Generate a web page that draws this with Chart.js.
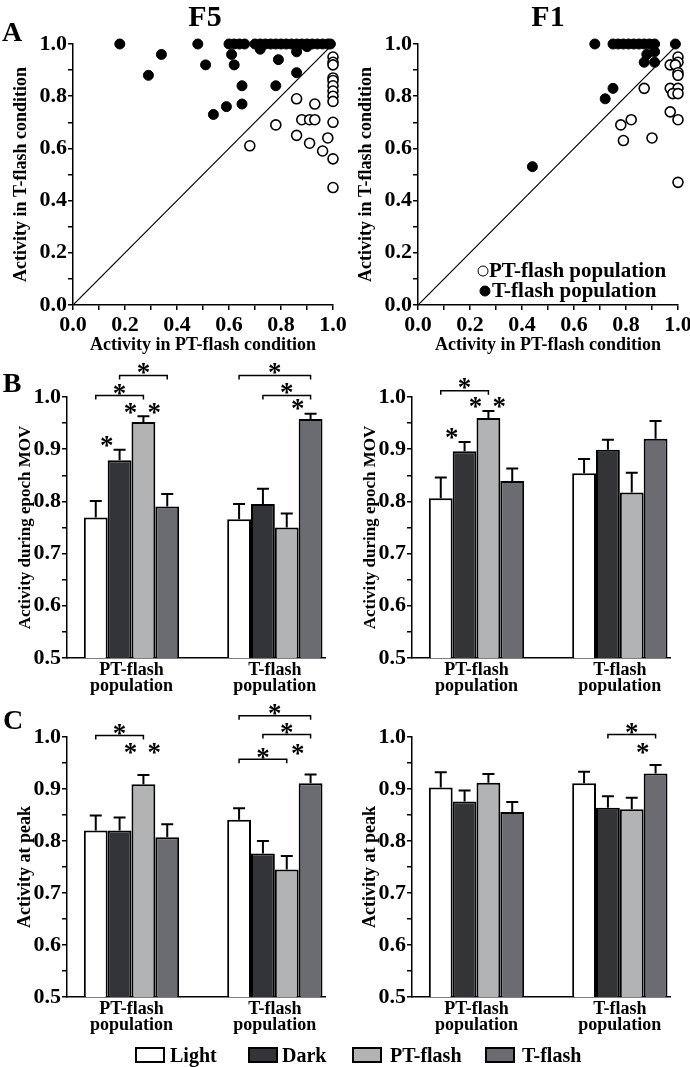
<!DOCTYPE html>
<html>
<head>
<meta charset="utf-8">
<script src="https://cdn.jsdelivr.net/npm/chart.js@4.4.1/dist/chart.umd.min.js"></script>
<style>
body { margin: 0; overflow: hidden; background: #fff; font-family: "Liberation Serif", "Times New Roman", serif; font-weight: bold; color: #000; }
#wrap { position: relative; width: 690px; height: 1067px; }
canvas { position: absolute; }
.t { position: absolute; white-space: nowrap; line-height: 1; transform: translate(-50%, -50%); }
.l { position: absolute; white-space: nowrap; line-height: 1; transform: translateY(-50%); }
.box { position: absolute; width: 26px; height: 12px; border: 2px solid #000; }
.dot { position: absolute; width: 9px; height: 9px; border-radius: 50%; border: 1.6px solid #000; transform: translate(-50%, -50%); }
</style>
</head>
<body>
<div id="wrap">
  <canvas id="scF5" width="360" height="340" style="left:0;top:20px"></canvas>
  <canvas id="scF1" width="360" height="340" style="left:345px;top:20px"></canvas>
  <canvas id="movF5" width="360" height="370" style="left:0;top:350px"></canvas>
  <canvas id="movF1" width="360" height="370" style="left:345px;top:350px"></canvas>
  <canvas id="peakF5" width="360" height="350" style="left:0;top:690px"></canvas>
  <canvas id="peakF1" width="360" height="350" style="left:345px;top:690px"></canvas>

  <div class="t" style="left:205px;top:16px;font-size:30px">F5</div>
  <div class="t" style="left:548px;top:16px;font-size:30px">F1</div>
  <div class="t" style="left:12px;top:32px;font-size:28px">A</div>
  <div class="t" style="left:12px;top:383px;font-size:28px">B</div>
  <div class="t" style="left:13px;top:720px;font-size:28px">C</div>

  <div class="dot" style="left:483px;top:271px;background:#fff"></div>
  <div class="l" style="left:489px;top:270px;font-size:21px">PT-flash population</div>
  <div class="dot" style="left:485px;top:291px;background:#000"></div>
  <div class="l" style="left:492px;top:290px;font-size:21px">T-flash population</div>

  <div class="box" style="left:135px;top:1047px;background:#fff"></div>
  <div class="l" style="left:170px;top:1055px;font-size:20px">Light</div>
  <div class="box" style="left:248px;top:1047px;background:#333437"></div>
  <div class="l" style="left:282px;top:1055px;font-size:20px">Dark</div>
  <div class="box" style="left:352px;top:1047px;background:#b2b3b5"></div>
  <div class="l" style="left:390px;top:1055px;font-size:20px">PT-flash</div>
  <div class="box" style="left:485px;top:1047px;background:#6b6c71"></div>
  <div class="l" style="left:522px;top:1055px;font-size:20px">T-flash</div>
</div>

<script>
// ---- data ----
// scatter: [activity in PT-flash condition, activity in T-flash condition]
const f5PT = [[0.68,0.61],[0.78,0.69],[0.86,0.79],[0.86,0.65],[0.88,0.71],[0.91,0.71],[0.93,0.71],
  [0.93,0.77],[0.91,0.62],[0.96,0.59],[0.98,0.64],[1.0,0.95],[1.0,0.93],[1.0,0.92],[1.0,0.87],
  [1.0,0.86],[1.0,0.84],[1.0,0.82],[1.0,0.80],[1.0,0.78],[1.0,0.70],[1.0,0.56],[1.0,0.45]];
const f5T = [[0.18,1.0],[0.29,0.88],[0.34,0.96],[0.48,1.0],[0.51,0.92],[0.54,0.73],[0.59,0.76],
  [0.60,1.0],[0.62,1.0],[0.64,1.0],[0.66,1.0],[0.61,0.96],[0.62,0.92],[0.65,0.84],[0.65,0.77],
  [0.70,1.0],[0.72,1.0],[0.74,1.0],[0.76,1.0],[0.78,1.0],[0.80,1.0],[0.82,1.0],[0.84,1.0],
  [0.86,1.0],[0.88,1.0],[0.90,1.0],[0.92,1.0],[0.94,1.0],[0.96,1.0],[0.98,1.0],[0.99,1.0],
  [0.72,0.98],[0.79,0.94],[0.78,0.84],[0.86,0.97],[0.86,0.89],[0.90,0.99]];
const f1PT = [[0.78,0.69],[0.82,0.71],[0.79,0.63],[0.90,0.64],[0.87,0.83],[0.97,0.92],[1.0,0.95],
  [1.0,0.93],[0.99,0.92],[1.0,0.89],[1.0,0.88],[0.97,0.83],[1.0,0.83],[0.98,0.81],[1.0,0.81],
  [0.97,0.74],[1.0,0.71],[1.0,0.47]];
const f1T = [[0.44,0.53],[0.68,1.0],[0.75,1.0],[0.77,1.0],[0.79,1.0],[0.81,1.0],[0.83,1.0],
  [0.85,1.0],[0.87,1.0],[0.89,1.0],[0.91,1.0],[0.99,1.0],[0.88,0.96],[0.91,0.97],[0.87,0.93],
  [0.91,0.93],[0.75,0.83],[0.72,0.79]];
const diagonal = [{x: 0, y: 0}, {x: 1, y: 1}];

// bars: one row per condition, one value per population
const groupLabels = [['PT-flash', 'population'], ['T-flash', 'population']];
const conditions = ['Light', 'Dark', 'PT-flash', 'T-flash'];
const movF5Mean = [[0.769,0.766],[0.879,0.795],[0.952,0.750],[0.790,0.958]];
const movF5Err  = [[0.032,0.029],[0.020,0.029],[0.011,0.027],[0.024,0.010]];
const movF1Mean = [[0.806,0.854],[0.896,0.899],[0.960,0.817],[0.839,0.920]];
const movF1Err  = [[0.040,0.027],[0.018,0.019],[0.013,0.038],[0.024,0.034]];
const peakF5Mean = [[0.820,0.841],[0.820,0.776],[0.909,0.745],[0.807,0.911]];
const peakF5Err  = [[0.029,0.022],[0.025,0.024],[0.018,0.026],[0.025,0.017]];
const peakF1Mean = [[0.903,0.911],[0.876,0.864],[0.912,0.861],[0.856,0.930]];
const peakF1Err  = [[0.029,0.022],[0.021,0.022],[0.017,0.022],[0.019,0.016]];

// significance marks: brackets [group, fromBar, toBar, lineY, starY], stars [group, bar, starY]
const movF5Sig = {
  brackets: [[0,0,2,1.003,1.015],[0,1,3,1.041,1.054],[1,0,3,1.041,1.054],[1,1,3,1.003,1.016]],
  stars: [[0,1,0.915],[0,2,0.978],[0,3,0.978],[1,3,0.985]]
};
const movF1Sig = {
  brackets: [[0,0,2,1.012,1.025]],
  stars: [[0,1,0.930],[0,2,0.990],[0,3,0.990]]
};
const peakF5Sig = {
  brackets: [[0,0,2,1.003,1.014],[1,0,3,1.041,1.052],[1,1,3,1.005,1.016],[1,0,2,0.957,0.969]],
  stars: [[0,2,0.978],[0,3,0.978],[1,3,0.976]]
};
const peakF1Sig = {
  brackets: [[1,1,3,1.005,1.016]],
  stars: [[1,3,0.978]]
};

// ---- style ----
const barFill = ['#ffffff', '#333437', '#b2b3b5', '#6b6c71'];
const groupPos = [0.45, 1.45];

Chart.defaults.font.family = '"Liberation Serif", "Times New Roman", serif';
Chart.defaults.font.weight = 'bold';
Chart.defaults.color = '#000';
Chart.defaults.animation = false;

const tickFont = {size: 22, weight: 'bold'};
const isMajor = (v, n) => Math.abs(v * 10 - Math.round(v * 10)) < 1e-6 && Math.round(v * 10) % n === 0;

function valueAxis(fixed, tickEvery, labelEvery, title, titleSize, titlePad, min) {
  return {
    type: 'linear', min: min, max: 1,
    afterFit: fixed,
    border: {color: '#000', width: 1.5},
    grid: {drawOnChartArea: false, drawTicks: true, tickLength: 5, color: '#000', lineWidth: 1.5},
    ticks: {stepSize: tickEvery, padding: 1, font: tickFont, autoSkip: false, maxRotation: 0,
      callback: v => isMajor(v, labelEvery) ? v.toFixed(1) : ''},
    title: {display: true, text: title, font: {size: titleSize, weight: 'bold'},
      padding: {top: titlePad, bottom: 0}}
  };
}

function scatterChart(id, pt, t) {
  const yAx = valueAxis(s => { s.width = 73; }, 0.1, 2, 'Activity in T-flash condition', 18, 11, 0);
  const xAx = valueAxis(s => { s.height = 51; }, 0.1, 2, 'Activity in PT-flash condition', 18, 0, 0);
  xAx.ticks.padding = 2;
  return new Chart(document.getElementById(id), {
    type: 'scatter',
    data: {
      datasets: [
        {data: diagonal, showLine: true, borderColor: '#000', borderWidth: 1.2, pointRadius: 0},
        {data: pt.map(p => ({x: p[0], y: p[1]})), pointRadius: 5, pointBackgroundColor: '#fff',
          pointBorderColor: '#000', pointBorderWidth: 1.6, clip: false},
        {data: t.map(p => ({x: p[0], y: p[1]})), pointRadius: 5, pointBackgroundColor: '#000',
          pointBorderColor: '#000', pointBorderWidth: 1, clip: false}
      ]
    },
    options: {
      responsive: false,
      layout: {padding: {left: 0, right: 27, top: 24, bottom: 4}},
      plugins: {legend: {display: false}, tooltip: {enabled: false}},
      scales: {x: xAx, y: yAx}
    }
  });
}

function extras(sig) {
  return {
    id: 'extras',
    afterDatasetsDraw(chart) {
      const ctx = chart.ctx, ys = chart.scales.y;
      const bar = (d, g) => chart.getDatasetMeta(d).data[g];
      ctx.save();
      ctx.strokeStyle = '#000';
      ctx.fillStyle = '#000';
      ctx.lineWidth = 2;
      // error bars (upward only)
      chart.data.datasets.forEach((ds, d) => {
        chart.getDatasetMeta(d).data.forEach((el, g) => {
          const y0 = ys.getPixelForValue(ds.data[g].y);
          const y1 = ys.getPixelForValue(ds.data[g].y + ds.err[g]);
          ctx.beginPath();
          ctx.moveTo(el.x, y0);
          ctx.lineTo(el.x, y1);
          ctx.moveTo(el.x - 6, y1);
          ctx.lineTo(el.x + 6, y1);
          ctx.stroke();
        });
      });
      ctx.lineWidth = 1.5;
      ctx.font = 'bold 27px "Liberation Serif"';
      ctx.textAlign = 'center';
      ctx.textBaseline = 'alphabetic';
      const star = (x, y) => {
        const m = ctx.measureText('*');
        ctx.fillText('*', x, y + (m.actualBoundingBoxAscent - m.actualBoundingBoxDescent) / 2);
      };
      sig.brackets.forEach(([g, a, b, v, s]) => {
        const x0 = bar(a, g).x, x1 = bar(b, g).x, y = ys.getPixelForValue(v);
        ctx.beginPath();
        ctx.moveTo(x0, y + 4);
        ctx.lineTo(x0, y);
        ctx.lineTo(x1, y);
        ctx.lineTo(x1, y + 4);
        ctx.stroke();
        star((x0 + x1) / 2, ys.getPixelForValue(s));
      });
      sig.stars.forEach(([g, d, v]) => {
        const el = bar(d, g);
        star(el.x - el.width / 2 - 1, ys.getPixelForValue(v));
      });
      ctx.restore();
    }
  };
}

// axisH + padBottom sets where the x axis sits inside the canvas
function barChart(id, means, errs, sig, yTitle, titleSize, axisH, padBottom) {
  const yAx = valueAxis(s => { s.width = 67; }, 0.05, 1, yTitle, titleSize, 15, 0.5);
  return new Chart(document.getElementById(id), {
    type: 'bar',
    data: {
      datasets: conditions.map((c, i) => ({
        label: c,
        data: groupPos.map((gx, g) => ({x: gx, y: means[i][g]})),
        err: errs[i],
        backgroundColor: barFill[i],
        borderColor: '#000',
        borderWidth: 2,
        barPercentage: 1,
        categoryPercentage: 0.665
      }))
    },
    options: {
      responsive: false,
      layout: {padding: {left: 0, right: 35, top: 47, bottom: padBottom}},
      plugins: {legend: {display: false}, tooltip: {enabled: false}},
      scales: {
        x: {
          type: 'linear', min: 0, max: 1.8, offset: false,
          afterFit: s => { s.height = axisH; },
          afterBuildTicks: s => { s.ticks = groupPos.map(v => ({value: v})); },
          border: {color: '#000', width: 1.5},
          grid: {display: false, drawTicks: false},
          ticks: {padding: 4, autoSkip: false, maxRotation: 0,
            font: {size: 18, weight: 'bold', lineHeight: 0.9},
            callback: (v, i) => groupLabels[i]}
        },
        y: yAx
      }
    },
    plugins: [extras(sig)]
  });
}

scatterChart('scF5', f5PT, f5T);
scatterChart('scF1', f1PT, f1T);
barChart('movF5', movF5Mean, movF5Err, movF5Sig, 'Activity during epoch MOV', 17, 50, 12);
barChart('movF1', movF1Mean, movF1Err, movF1Sig, 'Activity during epoch MOV', 17, 50, 12);
barChart('peakF5', peakF5Mean, peakF5Err, peakF5Sig, 'Activity at peak', 18, 40, 3);
barChart('peakF1', peakF1Mean, peakF1Err, peakF1Sig, 'Activity at peak', 18, 40, 3);
</script>
</body>
</html>
